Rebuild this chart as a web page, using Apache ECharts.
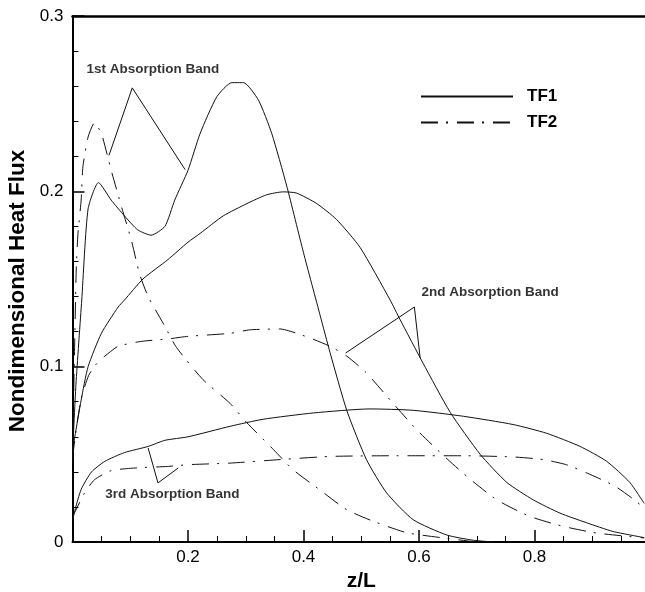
<!DOCTYPE html>
<html>
<head>
<meta charset="utf-8">
<title>Nondimensional Heat Flux</title>
<script src="https://cdn.jsdelivr.net/npm/echarts@6/dist/echarts.min.js"></script>
<style>
  html, body { margin: 0; padding: 0; background: #fff; }
  #chart { width: 645px; height: 592px; }
</style>
</head>
<body>
<div id="chart"></div>
<script>
// Axial position z/L and nondimensional heat flux for each absorption band.
// TF1 (solid lines)
const tf1Band1Z = [0, 0.006, 0.016, 0.027, 0.045, 0.067, 0.090, 0.113, 0.136, 0.160, 0.177, 0.200, 0.221, 0.250, 0.276, 0.296, 0.322, 0.345, 0.371, 0.400, 0.429, 0.446, 0.475, 0.509, 0.544, 0.590, 0.648, 0.694, 0.730];
const tf1Band1Q = [0.050, 0.090, 0.138, 0.190, 0.205, 0.195, 0.186, 0.178, 0.175, 0.180, 0.195, 0.212, 0.233, 0.254, 0.262, 0.262, 0.252, 0.233, 0.203, 0.165, 0.129, 0.108, 0.075, 0.047, 0.028, 0.0127, 0.004, 0.001, 0];

const tf1Band2Z = [0, 0.004, 0.015, 0.027, 0.050, 0.079, 0.090, 0.122, 0.165, 0.200, 0.221, 0.261, 0.302, 0.336, 0.365, 0.388, 0.423, 0.457, 0.498, 0.550, 0.567, 0.607, 0.654, 0.706, 0.752, 0.798, 0.844, 0.890, 0.936, 0.990];
const tf1Band2Q = [0.052, 0.060, 0.081, 0.100, 0.119, 0.134, 0.138, 0.150, 0.161, 0.171, 0.176, 0.186, 0.193, 0.198, 0.1997, 0.199, 0.193, 0.184, 0.168, 0.138, 0.127, 0.102, 0.074, 0.050, 0.034, 0.024, 0.0165, 0.011, 0.006, 0.0025];

const tf1Band3Z = [0, 0.004, 0.015, 0.033, 0.056, 0.090, 0.131, 0.160, 0.200, 0.273, 0.330, 0.417, 0.515, 0.590, 0.677, 0.763, 0.821, 0.879, 0.925, 0.965, 0.990];
const tf1Band3Q = [0.012, 0.018, 0.030, 0.040, 0.046, 0.051, 0.0545, 0.058, 0.060, 0.066, 0.070, 0.0736, 0.0759, 0.0751, 0.0717, 0.067, 0.062, 0.0545, 0.046, 0.034, 0.022];

// TF2 (dash-dot lines)
const tf2Band1Z = [0, 0.003, 0.0066, 0.0095, 0.015, 0.018, 0.027, 0.038, 0.050, 0.067, 0.085, 0.102, 0.116, 0.131, 0.160, 0.180, 0.226, 0.273, 0.302, 0.348, 0.382, 0.428, 0.475, 0.521, 0.579, 0.650, 0.700];
const tf2Band1Q = [0.045, 0.100, 0.157, 0.176, 0.195, 0.214, 0.231, 0.239, 0.233, 0.212, 0.191, 0.172, 0.153, 0.140, 0.123, 0.111, 0.0926, 0.079, 0.068, 0.0527, 0.0412, 0.0298, 0.0184, 0.0118, 0.0053, 0.002, 0];

const tf2Band2Z = [0, 0.008, 0.016, 0.028, 0.040, 0.056, 0.079, 0.119, 0.165, 0.200, 0.273, 0.307, 0.359, 0.406, 0.446, 0.475, 0.509, 0.550, 0.596, 0.650, 0.688, 0.735, 0.792, 0.850, 0.908, 0.990];
const tf2Band2Q = [0.048, 0.068, 0.083, 0.095, 0.101, 0.106, 0.1116, 0.1144, 0.1158, 0.1173, 0.119, 0.121, 0.1215, 0.117, 0.1116, 0.106, 0.0964, 0.081, 0.064, 0.047, 0.036, 0.024, 0.0146, 0.0089, 0.0051, 0.0023];

const tf2Band3Z = [0, 0.004, 0.021, 0.038, 0.067, 0.108, 0.165, 0.200, 0.273, 0.359, 0.446, 0.561, 0.677, 0.763, 0.815, 0.856, 0.900, 0.940, 0.977, 0.990];
const tf2Band3Q = [0.014, 0.017, 0.028, 0.0355, 0.0407, 0.0422, 0.0431, 0.0441, 0.045, 0.047, 0.0488, 0.0492, 0.0492, 0.0485, 0.047, 0.044, 0.038, 0.0317, 0.023, 0.019];

// Band labels with their leader lines (apex in the middle, ends on the two curves)
const bandNames = ['1st Absorption Band', '2nd Absorption Band', '3rd Absorption Band'];
const bandLabelAt = [[0.139, 0.2694], [0.723, 0.1424], [0.173, 0.027]];
const bandLeaders = [
  [[0.0632, 0.2205], [0.1035, 0.259], [0.195, 0.2124]],
  [[0.473, 0.1078], [0.592, 0.134], [0.602, 0.105]],
  [[0.131, 0.0536], [0.148, 0.0337], [0.183, 0.0422]]
];

const zip = (xs, ys) => xs.map((x, i) => [x, ys[i]]);

const INK = '#111';
const DASH_DOT = [17, 8, 2, 9];
const FONT = 'Liberation Sans, Arial, sans-serif';

function curve(name, xs, ys, dashed) {
  return {
    type: 'line',
    name: name,
    data: zip(xs, ys),
    symbol: 'none',
    showSymbol: false,
    smooth: 0.2,
    clip: true,
    silent: true,
    // transparent item colour keeps the legend key a plain line
    itemStyle: { color: 'rgba(0,0,0,0)', borderWidth: 0 },
    lineStyle: { color: INK, width: 1, type: dashed ? DASH_DOT : 'solid' },
    z: 3
  };
}

const series = [
  curve('TF1', tf1Band1Z, tf1Band1Q, false),
  curve('TF1', tf1Band2Z, tf1Band2Q, false),
  curve('TF1', tf1Band3Z, tf1Band3Q, false),
  curve('TF2', tf2Band1Z, tf2Band1Q, true),
  curve('TF2', tf2Band2Z, tf2Band2Q, true),
  curve('TF2', tf2Band3Z, tf2Band3Q, true)
];

bandLeaders.forEach((pts, i) => {
  series.push({
    type: 'line',
    name: 'leader' + (i + 1),
    data: pts,
    symbol: 'none',
    silent: true,
    lineStyle: { color: INK, width: 1 },
    z: 4
  });
});

series.push({
  type: 'scatter',
  name: 'bandLabels',
  symbolSize: 0,
  silent: true,
  data: bandNames.map((n, i) => ({ name: n, value: bandLabelAt[i] })),
  label: {
    show: true,
    position: 'inside',
    formatter: '{b}',
    fontFamily: FONT,
    fontWeight: 'bold',
    fontSize: 13.5,
    color: '#000'
  },
  z: 5
});

const chart = echarts.init(document.getElementById('chart'), null, { renderer: 'canvas' });

chart.setOption({
  animation: false,
  backgroundColor: '#fff',
  grid: {
    left: 72.5, right: -5, top: 16, bottom: 50,
    containLabel: false,
    outerBoundsMode: 'none'
  },
  legend: {
    data: ['TF1', 'TF2'],
    orient: 'vertical',
    left: 415,
    top: 83,
    itemWidth: 92,
    itemHeight: 14,
    itemGap: 9,
    selectedMode: false,
    itemStyle: { color: 'rgba(0,0,0,0)', borderWidth: 0 },
    textStyle: {
      fontFamily: FONT,
      fontWeight: 'bold',
      fontSize: 17,
      color: '#000',
      padding: [0, 0, 0, 9]
    }
  },
  xAxis: [
    {
      type: 'value',
      min: 0,
      max: 1,
      interval: 0.2,
      position: 'bottom',
      name: 'z/L',
      nameLocation: 'middle',
      nameGap: 28,
      nameTextStyle: { fontFamily: FONT, fontSize: 21, fontWeight: 'bold', color: '#000' },
      axisLine: { show: true, onZero: false, lineStyle: { color: '#000', width: 2 } },
      axisTick: { show: true, inside: true, length: 12, lineStyle: { color: '#000', width: 1.5 } },
      minorTick: { show: true, splitNumber: 4, length: 6, lineStyle: { color: '#000', width: 1 } },
      axisLabel: {
        fontFamily: FONT,
        fontSize: 17,
        color: '#000',
        margin: 7,
        formatter: v => (v <= 0 || v >= 1) ? '' : v.toFixed(1)
      },
      splitLine: { show: false }
    },
    {
      type: 'value',
      min: 0,
      max: 1,
      position: 'top',
      axisLine: { show: true, onZero: false, lineStyle: { color: '#000', width: 2.5 } },
      axisTick: { show: false },
      axisLabel: { show: false },
      splitLine: { show: false }
    }
  ],
  yAxis: {
    type: 'value',
    min: 0,
    max: 0.3,
    interval: 0.1,
    name: 'Nondimensional Heat Flux',
    nameLocation: 'middle',
    nameGap: 33,
    nameTextStyle: {
      fontFamily: FONT,
      fontSize: 22.5,
      fontWeight: 'bold',
      color: '#000',
      padding: [0, 24, 0, 0]
    },
    axisLine: { show: true, onZero: false, lineStyle: { color: '#000', width: 2 } },
    axisTick: { show: true, inside: true, length: 12, lineStyle: { color: '#000', width: 1.5 } },
    minorTick: { show: true, splitNumber: 5, length: 6, lineStyle: { color: '#000', width: 1 } },
    axisLabel: { fontFamily: FONT, fontSize: 17, color: '#000', margin: 9 },
    splitLine: { show: false }
  },
  series: series
});
</script>
</body>
</html>
